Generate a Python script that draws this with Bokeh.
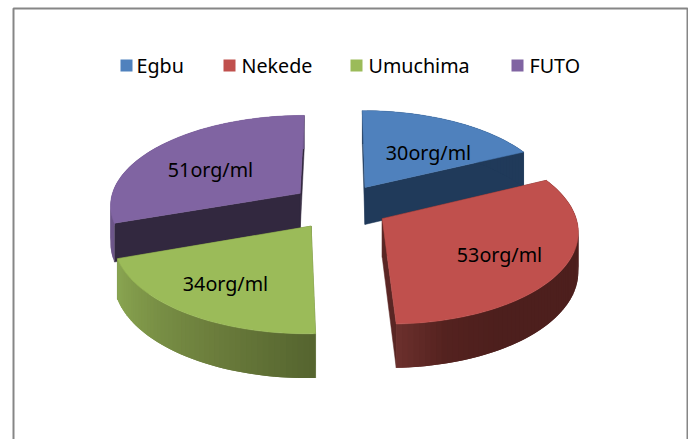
import math

from bokeh.core.properties import value
from bokeh.embed import file_html
from bokeh.models import ColumnDataSource, Range1d
from bokeh.plotting import figure
from bokeh.resources import INLINE

# Organism counts per sampling site
sites = ["Egbu", "Nekede", "Umuchima", "FUTO"]
counts = [30, 53, 34, 51]
labels = [f"{c}org/ml" for c in counts]

# Slice colours
top_colors = ["#4f81bd", "#c0504d", "#9bbb59", "#8064a2"]
cut_colors = ["#203a5a", "#5a2624", "#5f7035", "#32283f"]
# Outer wall shading: (angle in degrees clockwise from north, colour)
wall_stops = [
    [(0, "#203a5a"), (64, "#203a5a")],
    [(64, "#4d1f1d"), (150, "#4d1f1d"), (165, "#54221f"), (178, "#6c302d")],
    [(178, "#55642f"), (205, "#6b7d3c"), (235, "#80994a"), (251, "#8aa652")],
    [(251, "#6d5689"), (360, "#6d5689")],
]

# Projection of the tilted disc onto the canvas
CX, CY = 339, 206
RX, RY = 191, 90
PERSPECTIVE = 8.5
EXPLODE = 0.257
DEPTH = 38

# Label and legend placement
label_x = [428, 499, 225, 210]
label_y = [152, 254, 283, 169]
swatch_x = [126, 229, 356, 517]
legend_text_x = [136, 241, 368, 529]
LEGEND_Y = 65
FONT_SIZE = "19.7px"


def project(x, z, drop=0.0):
    f = PERSPECTIVE / (PERSPECTIVE + z)
    return CX + RX * x * f, CY + (drop - RY * z) * f


def hex_rgb(c):
    return tuple(int(c[i:i + 2], 16) for i in (1, 3, 5))


def shade(stops, angle):
    if angle <= stops[0][0]:
        return stops[0][1]
    for (a0, c0), (a1, c1) in zip(stops, stops[1:]):
        if angle <= a1:
            t = (angle - a0) / (a1 - a0)
            rgb = [round(u + (v - u) * t) for u, v in zip(hex_rgb(c0), hex_rgb(c1))]
            return "#%02x%02x%02x" % tuple(rgb)
    return stops[-1][1]


p = figure(
    width=688, height=439, output_backend="svg", toolbar_location=None,
    x_range=Range1d(0, 688), y_range=Range1d(439, 0),
    x_axis_type="linear", min_border=0,
)
p.axis.visible = False
p.grid.visible = False
p.outline_line_color = None
p.background_fill_color = "#ffffff"
p.border_fill_color = "#ffffff"

# Chart frame, running past the lower page edge
p.quad(left=[13], right=[687], top=[8], bottom=[450],
       fill_color=None, line_color="#868686", line_width=2)

total = sum(counts)
spans = []
start = 0.0
for c in counts:
    spans.append((start, start + 360.0 * c / total))
    start = spans[-1][1]

# Back slices are painted first so the front ones overlap them
for i in [0, 3, 1, 2]:
    a0, a1 = spans[i]
    mid = math.radians((a0 + a1) / 2)
    ox, oz = EXPLODE * math.sin(mid), EXPLODE * math.cos(mid)
    steps = max(2, int((a1 - a0) / 1.5))
    angles = [a0 + (a1 - a0) * k / steps for k in range(steps + 1)]
    rim = [(ox + math.sin(math.radians(a)), oz + math.cos(math.radians(a))) for a in angles]

    # Cut faces
    for wx, wz in (rim[0], rim[-1]):
        pts = [project(ox, oz), project(wx, wz), project(wx, wz, DEPTH), project(ox, oz, DEPTH)]
        p.patch([q[0] for q in pts], [q[1] for q in pts],
                fill_color=cut_colors[i], line_color=cut_colors[i], line_width=0.5)

    # Outer wall: each strip reaches over its neighbour so no seams show
    xs, ys, colors = [], [], []
    for k in range(steps):
        far = min(k + 2, steps)
        pts = [project(*rim[k]), project(*rim[far]),
               project(*rim[far], DEPTH), project(*rim[k], DEPTH)]
        xs.append([q[0] for q in pts])
        ys.append([q[1] for q in pts])
        colors.append(shade(wall_stops[i], (angles[k] + angles[k + 1]) / 2))
    wall = ColumnDataSource(dict(xs=xs, ys=ys, c=colors))
    p.patches("xs", "ys", source=wall, fill_color="c", line_color=None)

    # Top surface
    pts = [project(ox, oz)] + [project(*r) for r in rim]
    p.patch([q[0] for q in pts], [q[1] for q in pts],
            fill_color=top_colors[i], line_color=top_colors[i], line_width=0.5)

# Value labels
p.text(label_x, label_y, text=labels, text_font=value("Noto Sans"), text_font_size=FONT_SIZE,
       text_color="#000000", text_align="center", text_baseline="middle")

# Legend row
p.rect(swatch_x, [LEGEND_Y] * 4, width=12, height=12, fill_color=top_colors, line_color=None)
p.text(legend_text_x, [LEGEND_Y] * 4, text=sites, text_font=value("Noto Sans"),
       text_font_size=FONT_SIZE, text_color="#000000", text_align="left", text_baseline="middle")

open("out.html", "w").write(file_html(p, INLINE))
